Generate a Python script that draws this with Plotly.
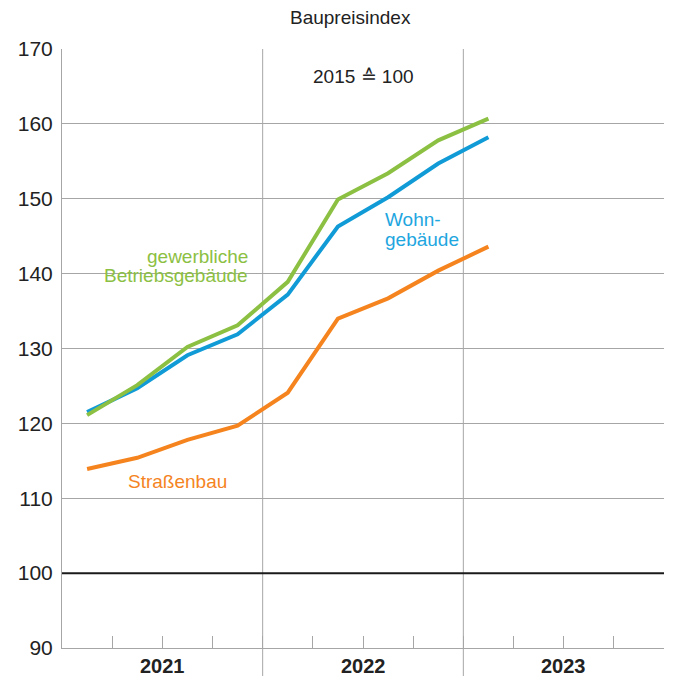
import plotly.graph_objects as go

quarters = ["2021 Q1", "2021 Q2", "2021 Q3", "2021 Q4",
            "2022 Q1", "2022 Q2", "2022 Q3", "2022 Q4", "2023 Q1"]
wohngebaeude = [121.5, 124.7, 129.1, 131.9, 137.2, 146.3, 150.2, 154.7, 158.2]
gewerbliche = [121.1, 125.1, 130.2, 133.1, 138.9, 149.9, 153.4, 157.8, 160.7]
strassenbau = [113.9, 115.4, 117.8, 119.7, 124.1, 134.0, 136.7, 140.4, 143.6]
years = ["2021", "2022", "2023"]
y_ticks = [90, 100, 110, 120, 130, 140, 150, 160, 170]

x_pos = [i + 0.5 for i in range(len(quarters))]

GREEN = "#8cc043"
BLUE = "#109bd7"
ORANGE = "#f5841f"
GRID = "#a6a6a6"
FONT = "Liberation Sans, Arial, sans-serif"

fig = go.Figure()
for name, vals, col in [("Straßenbau", strassenbau, ORANGE),
                        ("Wohngebäude", wohngebaeude, BLUE),
                        ("gewerbliche Betriebsgebäude", gewerbliche, GREEN)]:
    fig.add_trace(go.Scatter(x=x_pos, y=vals, mode="lines", name=name,
                             line=dict(color=col, width=4), customdata=quarters,
                             hovertemplate="%{customdata}: %{y}<extra>" + name + "</extra>"))

shapes = [
    dict(type="line", xref="paper", yref="y", x0=0, x1=1, y0=100, y1=100,
         line=dict(color="#1a1a1a", width=2), layer="above"),
    # gap in the 140 gridline behind the green label
    dict(type="rect", xref="x", yref="y", x0=0.68, x1=3.79, y0=139.6, y1=140.4,
         fillcolor="white", line=dict(width=0), layer="below"),
]
for b in [4, 8]:
    shapes.append(dict(type="line", xref="x", yref="paper", x0=b, x1=b, y0=-0.07, y1=1,
                       line=dict(color=GRID, width=1), layer="below"))
fig.update_layout(shapes=shapes)

annotations = [
    dict(text="Baupreisindex", xref="paper", yref="paper", x=0.48, y=1.0, yshift=32,
         showarrow=False, font=dict(size=19, color="#222"), xanchor="center", yanchor="middle"),
    dict(text="2015 ≙ 100", xref="x", yref="y", x=6.0, y=166.3, showarrow=False,
         font=dict(size=19, color="#222"), xanchor="center", yanchor="middle"),
    dict(text="gewerbliche", xref="x", yref="y", x=3.75, y=142.3,
         showarrow=False, font=dict(size=19, color=GREEN), xanchor="right", yanchor="middle"),
    dict(text="Betriebsgebäude", xref="x", yref="y", x=3.75, y=139.7,
         showarrow=False, font=dict(size=19, color=GREEN), xanchor="right", yanchor="middle"),
    dict(text="Wohn-", xref="x", yref="y", x=6.40, y=147.2,
         showarrow=False, font=dict(size=19, color="#1ea6e0"), xanchor="left", yanchor="middle"),
    dict(text="gebäude", xref="x", yref="y", x=6.40, y=144.6,
         showarrow=False, font=dict(size=19, color="#1ea6e0"), xanchor="left", yanchor="middle"),
    dict(text="Straßenbau", xref="x", yref="y", x=2.31, y=112.3,
         showarrow=False, font=dict(size=19, color=ORANGE), xanchor="center", yanchor="middle"),
]
for i, yr in enumerate(years):
    annotations.append(dict(text="<b>" + yr + "</b>", xref="x", yref="paper", x=4 * i + 2, y=0,
                            yshift=-18, showarrow=False, font=dict(size=20, color="#222"),
                            xanchor="center", yanchor="middle"))
fig.update_layout(annotations=annotations)

fig.update_layout(
    width=660, height=668,
    margin=dict(l=54, r=4, t=41, b=28),
    paper_bgcolor="white", plot_bgcolor="white",
    showlegend=False,
    font=dict(family=FONT, size=19, color="#222"),
    xaxis=dict(range=[0, 12], tickvals=list(range(13)), showticklabels=False,
               ticks="inside", ticklen=12, tickcolor=GRID, tickwidth=1,
               showgrid=False, zeroline=False, showline=True, linecolor=GRID, linewidth=1,
               fixedrange=True),
    yaxis=dict(range=[90, 170], tickvals=y_ticks, ticktext=[str(v) for v in y_ticks],
               showgrid=True, gridcolor=GRID, gridwidth=1, zeroline=False,
               showline=True, linecolor=GRID, linewidth=1, ticks="",
               ticklabelstandoff=4, tickfont=dict(size=21, color="#222"), fixedrange=True),
)

fig.write_html("out.html")
